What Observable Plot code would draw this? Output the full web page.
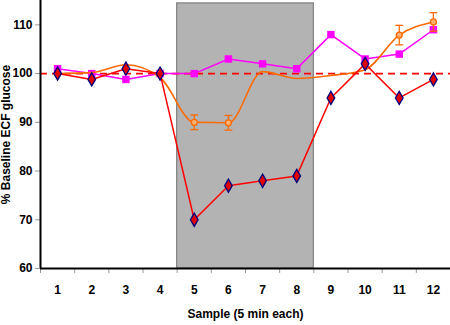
<!DOCTYPE html>
<html>
<head>
<meta charset="utf-8">
<script src="https://cdn.jsdelivr.net/npm/d3@7"></script>
<script src="https://cdn.jsdelivr.net/npm/@observablehq/plot@0.6"></script>
<style>
  html, body { margin: 0; padding: 0; background: #fff; }
  #chart svg { display: block; font-family: "Liberation Sans", Arial, sans-serif; }
</style>
</head>
<body>
<div id="chart"></div>
<script>
const samples = [1, 2, 3, 4, 5, 6, 7, 8, 9, 10, 11, 12];
const redValues = [100, 98.8, 101, 100, 70, 77, 78, 79, 95, 102, 95, 98.8];
const magentaValues = [101, 100, 98.8, 100, 100, 103, 102, 101, 108, 103, 104, 109];
const orangeValues = [100, 100.2, 101.8, 99.2, 90, 89.9, 100.4, 99, 99.6, 100.8, 107.9, 110.6];
const orangeErr = [null, null, null, null, 1.5, 1.5, null, null, null, null, 2, 1.9];
const yTicks = [60, 70, 80, 90, 100, 110];
const baseline = 100;
const shadeStart = 4.5, shadeEnd = 8.5, shadeTop = 114.4;
const yMin = 60, yMax = 115;

const red = samples.map((s, i) => ({x: s, y: redValues[i]}));
const magenta = samples.map((s, i) => ({x: s, y: magentaValues[i]}));
const orange = samples.map((s, i) => ({x: s, y: orangeValues[i], e: orangeErr[i]}));
const orangeBars = orange.filter(d => d.e != null);
const bandEdges = d3.range(0, samples.length + 1).map(i => samples[0] - 0.5 + i);

const capSymbol = {
  draw(ctx, size) {
    const w = Math.sqrt(size);
    ctx.moveTo(-w, 0); ctx.lineTo(w, 0);
  }
};

const orangeC = "#ff6a00";

const chart = Plot.plot({
  width: 450,
  height: 325,
  marginLeft: 40,
  marginRight: 0,
  marginTop: 0,
  marginBottom: 57,
  style: {fontFamily: "Liberation Sans, Arial, sans-serif", background: "#fff"},
  x: {domain: [samples[0] - 0.5, samples[samples.length - 1] + 0.5]},
  y: {domain: [yMin, yMax]},
  marks: [
    Plot.rect([{x1: shadeStart, x2: shadeEnd, y1: yMin, y2: shadeTop}], {
      x1: "x1", x2: "x2", y1: "y1", y2: "y2", fill: "#b3b3b3", stroke: "#7f7f7f", strokeWidth: 1.2
    }),
    Plot.ruleY([baseline], {stroke: "#ff0000", strokeWidth: 1.8, strokeDasharray: "7,5"}),
    Plot.line(magenta, {x: "x", y: "y", stroke: "#ff00ff", strokeWidth: 1.5}),
    Plot.dot(magenta, {x: "x", y: "y", symbol: "square", r: 4.2, fill: "#ff00ff", stroke: "none"}),
    Plot.line(orange, {x: "x", y: "y", stroke: orangeC, strokeWidth: 1.6, curve: "monotone-x"}),
    Plot.ruleX(orangeBars, {x: "x", y1: d => d.y - d.e, y2: d => d.y + d.e, stroke: orangeC, strokeWidth: 1.3}),
    Plot.dot(orangeBars, {x: "x", y: d => d.y - d.e, symbol: capSymbol, r: 2.2, stroke: orangeC, strokeWidth: 1.3, fill: "none"}),
    Plot.dot(orangeBars, {x: "x", y: d => d.y + d.e, symbol: capSymbol, r: 2.2, stroke: orangeC, strokeWidth: 1.3, fill: "none"}),
    Plot.dot(orangeBars, {x: "x", y: "y", r: 3, fill: "#ffb070", stroke: orangeC, strokeWidth: 1.3}),
    Plot.line(red, {x: "x", y: "y", stroke: "#ff0000", strokeWidth: 1.5}),
    Plot.dot(red, {x: "x", y: "y", symbol: "diamond", r: 4, fill: "#e00000", stroke: "#000080", strokeWidth: 1.3}),
    // axes
    Plot.axisY(yTicks, {
      anchor: "left", tickSize: 5, tickPadding: 3, stroke: "#999", fontSize: 12, fontWeight: "bold", fill: "#000",
      label: null
    }),
    Plot.axisX(samples, {
      anchor: "bottom", tickSize: 0, tickPadding: 17, fontSize: 12, fontWeight: "bold", fill: "#000", label: null
    }),
    Plot.axisX(bandEdges, {
      anchor: "bottom", tickSize: 5, tickFormat: () => "", stroke: "#999", label: null
    }),
    Plot.ruleY([yMin], {stroke: "#000", strokeWidth: 2}),
    Plot.ruleX([samples[0] - 0.5], {y1: yMin, y2: yMax, stroke: "#000", strokeWidth: 2}),
    Plot.text(["% Baseline ECF glucose"], {
      frameAnchor: "left", dx: -34, rotate: -90, textAnchor: "middle", fontSize: 12, fontWeight: "bold", fill: "#000"
    }),
    Plot.text(["Sample (5 min each)"], {
      frameAnchor: "bottom", dy: 49, fontSize: 12, fontWeight: "bold", fill: "#000"
    })
  ]
});
document.getElementById("chart").appendChild(chart);
</script>
</body>
</html>
